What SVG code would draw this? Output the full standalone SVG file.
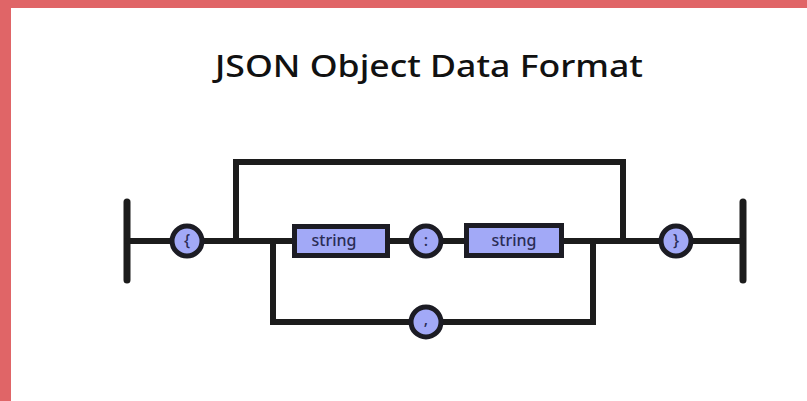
<svg xmlns="http://www.w3.org/2000/svg" width="807" height="401" viewBox="0 0 807 401">
<style>
.ln{fill:none;stroke:#1c1c1c;stroke-width:6;stroke-linecap:round;stroke-linejoin:miter}
.end{fill:none;stroke:#1c1c1c;stroke-width:7;stroke-linecap:round}
.tok{fill:#a2a9f7;stroke:#1c1c24;stroke-width:5}
.lbl{font-family:"Noto Sans","Liberation Sans",sans-serif;font-size:16px;font-weight:500;fill:#2a2c55;text-anchor:middle}
.title{font-family:"Noto Sans","Liberation Sans",sans-serif;font-size:31px;font-weight:500;fill:#111111;text-anchor:middle}
</style>
<rect width="807" height="401" fill="#ffffff"/>
<rect x="0" y="0" width="807" height="8" fill="#e06567"/>
<rect x="0" y="0" width="11" height="401" fill="#e06567"/>
<text class="title" x="429" y="77" textLength="428" lengthAdjust="spacingAndGlyphs">JSON Object Data Format</text>
<g id="connectors">
<line class="end" x1="127" y1="202" x2="127" y2="280"/>
<line class="end" x1="743" y1="202" x2="743" y2="280"/>
<path class="ln" d="M127 241 H294"/>
<path class="ln" d="M236 241 V162 H623 V241"/>
<path class="ln" d="M387 241 H465"/>
<path class="ln" d="M562 241 H743"/>
<path class="ln" d="M273 241 V322 H593 V241"/>
</g>
<g id="start-brace"><circle class="tok" cx="187" cy="241" r="15"/><text class="lbl" x="187" y="246">{</text></g>
<g id="key-string"><rect class="tok" x="294.5" y="226.5" width="93" height="29"/><text class="lbl" x="334" y="246">string</text></g>
<g id="colon"><circle class="tok" cx="426" cy="241" r="15"/><text class="lbl" x="426" y="246">:</text></g>
<g id="value-string"><rect class="tok" x="466.5" y="225.5" width="95" height="30"/><text class="lbl" x="514" y="246">string</text></g>
<g id="comma"><circle class="tok" cx="426" cy="322" r="15"/><text class="lbl" x="426" y="325">,</text></g>
<g id="end-brace"><circle class="tok" cx="676" cy="241" r="15"/><text class="lbl" x="676" y="246">}</text></g>
</svg>
